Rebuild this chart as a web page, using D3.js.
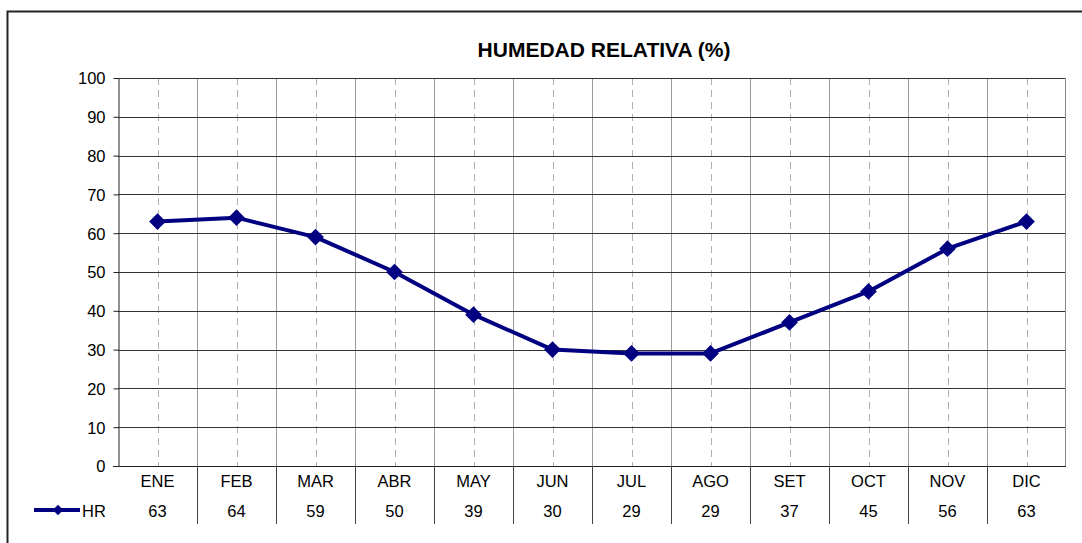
<!DOCTYPE html>
<html>
<head>
<meta charset="utf-8">
<script src="https://cdn.jsdelivr.net/npm/d3@7"></script>
<style>
  html, body { margin: 0; padding: 0; background: #fff; }
  svg { display: block; font-family: "Liberation Sans", Arial, sans-serif; }
</style>
</head>
<body>
<svg id="chart" width="1082" height="543"></svg>
<script>
var months = ['ENE', 'FEB', 'MAR', 'ABR', 'MAY', 'JUN', 'JUL', 'AGO', 'SET', 'OCT', 'NOV', 'DIC'];
var hr = [63, 64, 59, 50, 39, 30, 29, 29, 37, 45, 56, 63];
var yTicks = [0, 10, 20, 30, 40, 50, 60, 70, 80, 90, 100];
var seriesName = 'HR';
var title = 'HUMEDAD RELATIVA (%)';

var svg = d3.select('#chart');

// outer frame (right/bottom edges fall outside the picture)
svg.append('rect')
    .attr('x', 7.5).attr('y', 11.5)
    .attr('width', 1090).attr('height', 540)
    .attr('fill', '#fff')
    .attr('stroke', '#222')
    .attr('stroke-width', 2);

var plot = {left: 118, right: 1066, top: 78, bottom: 466};

var x = d3.scaleBand()
    .domain(months)
    .range([plot.left, plot.right]);

var y = d3.scaleLinear()
    .domain([0, 100])
    .range([plot.bottom, plot.top]);

// vertical category separators (solid) and centre lines (dashed)
var boundaries = d3.range(1, months.length).map(function (i) { return x(months[i]); });

svg.append('g').selectAll('line')
    .data(boundaries)
    .enter().append('line')
    .attr('x1', function (d) { return Math.round(d) + 0.5; })
    .attr('x2', function (d) { return Math.round(d) + 0.5; })
    .attr('y1', plot.top)
    .attr('y2', plot.bottom)
    .attr('stroke', '#9a9a9a');

svg.append('g').selectAll('line')
    .data(months)
    .enter().append('line')
    .attr('x1', function (d) { return Math.round(x(d) + x.bandwidth() / 2) + 0.5; })
    .attr('x2', function (d) { return Math.round(x(d) + x.bandwidth() / 2) + 0.5; })
    .attr('y1', plot.top)
    .attr('y2', plot.bottom)
    .attr('stroke', '#b0b0b0')
    .attr('stroke-dasharray', '7,5');

// horizontal grid lines
svg.append('g').selectAll('line')
    .data(yTicks.slice(1))
    .enter().append('line')
    .attr('x1', plot.left)
    .attr('x2', plot.right)
    .attr('y1', function (d) { return Math.round(y(d)) + 0.5; })
    .attr('y2', function (d) { return Math.round(y(d)) + 0.5; })
    .attr('stroke', '#333');

// right plot border
svg.append('line')
    .attr('x1', plot.right - 0.5).attr('x2', plot.right - 0.5)
    .attr('y1', plot.top).attr('y2', plot.bottom)
    .attr('stroke', '#8a8a8a');

// y axis
var yAxis = svg.append('g')
    .attr('transform', 'translate(' + (plot.left + 0.5) + ',0)')
    .call(d3.axisLeft(y).tickValues(yTicks).tickSize(5).tickSizeOuter(0).tickPadding(8));
yAxis.select('.domain').attr('stroke', '#222');
yAxis.selectAll('.tick line').attr('stroke', '#222');
yAxis.selectAll('.tick text')
    .attr('fill', '#000')
    .attr('dy', '0.36em')
    .style('font-size', '16.5px')
    .style('font-family', '"Liberation Sans", Arial, sans-serif');

// x axis baseline
svg.append('line')
    .attr('x1', plot.left - 5).attr('x2', plot.right)
    .attr('y1', plot.bottom + 0.5).attr('y2', plot.bottom + 0.5)
    .attr('stroke', '#222');

// data table separators
svg.append('g').selectAll('line')
    .data(boundaries)
    .enter().append('line')
    .attr('x1', function (d) { return Math.round(d) + 0.5; })
    .attr('x2', function (d) { return Math.round(d) + 0.5; })
    .attr('y1', plot.bottom)
    .attr('y2', 524)
    .attr('stroke', '#444');

// month labels
svg.append('g').selectAll('text')
    .data(months)
    .enter().append('text')
    .attr('x', function (d) { return x(d) + x.bandwidth() / 2; })
    .attr('y', 487)
    .attr('text-anchor', 'middle')
    .style('font-size', '16.5px')
    .text(function (d) { return d; });

// values row
svg.append('g').selectAll('text')
    .data(hr)
    .enter().append('text')
    .attr('x', function (d, i) { return x(months[i]) + x.bandwidth() / 2; })
    .attr('y', 517)
    .attr('text-anchor', 'middle')
    .style('font-size', '16.5px')
    .text(function (d) { return d; });

// legend key in table
var legend = svg.append('g');
legend.append('line')
    .attr('x1', 34).attr('x2', 80)
    .attr('y1', 510).attr('y2', 510)
    .attr('stroke', '#000080')
    .attr('stroke-width', 4);
legend.append('path')
    .attr('d', d3.symbol().type(d3.symbolSquare).size(55)())
    .attr('transform', 'translate(58,510) rotate(45)')
    .attr('fill', '#000080');
legend.append('text')
    .attr('x', 82).attr('y', 517)
    .style('font-size', '16.5px')
    .text(seriesName);

// series line
var line = d3.line()
    .x(function (d, i) { return x(months[i]) + x.bandwidth() / 2; })
    .y(function (d) { return y(d); });

svg.append('path')
    .datum(hr)
    .attr('d', line)
    .attr('fill', 'none')
    .attr('stroke', '#000080')
    .attr('stroke-width', 4)
    .attr('stroke-linejoin', 'round');

svg.append('g').selectAll('path')
    .data(hr)
    .enter().append('path')
    .attr('d', d3.symbol().type(d3.symbolSquare).size(140)())
    .attr('transform', function (d, i) {
        return 'translate(' + (x(months[i]) + x.bandwidth() / 2) + ',' + y(d) + ') rotate(45)';
    })
    .attr('fill', '#000080');

// title
svg.append('text')
    .attr('x', 604)
    .attr('y', 57)
    .attr('text-anchor', 'middle')
    .style('font-size', '21px')
    .style('font-weight', 'bold')
    .text(title);
</script>
</body>
</html>
